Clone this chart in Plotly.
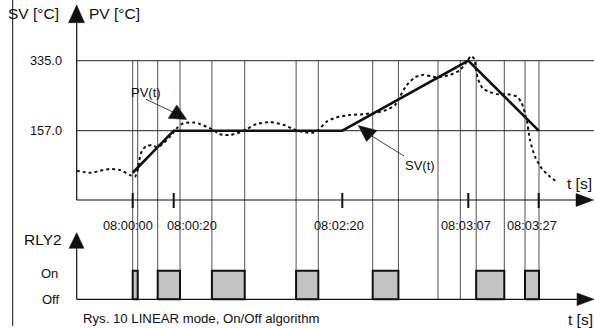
import plotly.graph_objects as go

# ---------------- data ----------------
# schematic time positions (chart units) and values
sv_t = [56, 97, 265.6, 391.6, 462]
sv_val = [50, 157, 157, 335, 157]

pv_t = [0, 13.3, 23.3, 33.3, 43.3, 53.3, 58.3, 61, 62.6, 65, 69.3, 75, 80.6, 86.6,
        93.3, 100, 106.6, 116.6, 123.3, 135, 143.3, 153.3, 163.3, 170, 180, 193.3,
        206.6, 216.6, 226.6, 236.6, 241.6, 250, 260, 273.3, 286.6, 300, 310, 318.3,
        323.3, 330, 338.3, 346.6, 356.6, 363.3, 373.3, 383.3, 390, 394.3, 397.6,
        399.3, 401.6, 406, 413.3, 420, 430, 440, 445, 450, 453.3, 458.3, 465, 473.3, 480]
pv_val = [55, 50, 55, 60, 57, 44, 40, 57, 82, 104, 118, 120, 115, 125,
          142, 163, 176, 178, 174, 161, 148, 146, 153, 161, 174, 179,
          172, 161, 154, 152, 159, 180, 191, 197, 199, 203, 210, 222,
          244, 273, 293, 299, 294, 293, 299, 311, 332, 347, 339,
          311, 286, 265, 255, 250, 250, 244, 227, 184, 133, 91, 61, 40, 27]

relay_on = [56, 81, 135.2, 219.4, 296, 399.5, 448.3]
relay_off = [61, 103.3, 168, 241.6, 321.7, 427.6, 462.3]
extra_events = [361.3, 383.6]

tick_t = [56, 97, 265.6, 391.6, 462]
tick_labels = ["08:00:00", "08:00:20", "08:02:20", "08:03:07", "08:03:27"]
label_shift = [-4.7, 18.5, -3.8, -2.3, -6.7]

level_vals = [157, 335]
level_labels = ["157.0", "335.0"]

# ---------------- geometry helpers ----------------
W, H = 594, 328
X0 = 76.7
Y157, Y335 = 130.7, 60.7
K = (335 - 157) / (Y157 - Y335)
YOFF, YON = 299.3, 270.7


def ux(px):
    return px - X0


def ty(py):
    return 157 + (Y157 - py) * K


def ry(py):
    return (YOFF - py) / (YOFF - YON)


def paper(px, py):
    return px / W, 1 - py / H


FONT = "Liberation Sans, Arial, sans-serif"
INK = "#111111"

fig = go.Figure()

# relay pulses
for a, b in zip(relay_on, relay_off):
    fig.add_trace(go.Scatter(x=[a, a, b, b, a], y=[0, 1, 1, 0, 0], mode="lines",
                             fill="toself", fillcolor="#c3c3c3",
                             line=dict(color=INK, width=2), yaxis="y2",
                             hoverinfo="skip", showlegend=False))

# PV (dotted) and SV (solid)
fig.add_trace(go.Scatter(x=pv_t, y=pv_val, mode="lines",
                         line=dict(color=INK, width=2, dash="dot", shape="spline", smoothing=0.6),
                         showlegend=False, hoverinfo="skip"))
fig.add_trace(go.Scatter(x=sv_t, y=sv_val, mode="lines",
                         line=dict(color=INK, width=2.6),
                         showlegend=False, hoverinfo="skip"))

shapes = []
# left frame line
shapes.append(dict(type="line", xref="x", yref="paper", x0=ux(12.7), x1=ux(12.7),
                   y0=1 - 326 / H, y1=1, line=dict(color=INK, width=1)))
# vertical event lines
for e in sorted(relay_on + relay_off + extra_events):
    shapes.append(dict(type="line", xref="x", yref="paper", x0=e, x1=e,
                       y0=1 - YOFF / H, y1=1 - Y335 / H, layer="below",
                       line=dict(color="#505050", width=1)))
# horizontal level lines
for v in level_vals:
    shapes.append(dict(type="line", xref="x", yref="y", x0=0, x1=ux(W), y0=v, y1=v,
                       layer="below", line=dict(color="#222222", width=1)))


def tri(pts, yconv, yref):
    p = " L ".join(f"{ux(x)},{yconv(y)}" for x, y in pts)
    return dict(type="path", xref="x", yref=yref, path="M " + p + " Z",
                fillcolor=INK, line=dict(color=INK, width=0.5))


# top time axis
shapes.append(dict(type="line", xref="x", yref="y", x0=0, x1=ux(580), y0=ty(200), y1=ty(200),
                   line=dict(color=INK, width=1.2)))
shapes.append(tri([(576, 193.5), (593.5, 200), (576, 206.5)], ty, "y"))
# bottom time axis
shapes.append(dict(type="line", xref="x", yref="y2", x0=0, x1=ux(580), y0=0, y1=0,
                   line=dict(color=INK, width=1.2)))
shapes.append(tri([(577, 293), (594, 299.3), (577, 305.6)], ry, "y2"))
# PV axis
shapes.append(dict(type="line", xref="x", yref="y", x0=0, x1=0, y0=ty(200), y1=ty(20),
                   line=dict(color=INK, width=1.2)))
shapes.append(tri([(68.5, 22.7), (76.7, 5), (84.5, 22.7)], ty, "y"))
# RLY2 axis
shapes.append(dict(type="line", xref="x", yref="y2", x0=0, x1=0, y0=0, y1=ry(246),
                   line=dict(color=INK, width=1.2)))
shapes.append(tri([(69, 248.3), (76.7, 232.7), (84, 248.3)], ry, "y2"))
# ticks
for t in tick_t:
    shapes.append(dict(type="line", xref="x", yref="y", x0=t, x1=t, y0=ty(193), y1=ty(208),
                       line=dict(color=INK, width=2)))
# PV(t) pointer
shapes.append(dict(type="line", xref="x", yref="y", x0=ux(146), x1=ux(174), y0=ty(99.3), y1=ty(112.5),
                   line=dict(color=INK, width=0.8)))
shapes.append(tri([(168.3, 118.3), (186.7, 119.5), (176.7, 105)], ty, "y"))
# SV(t) pointer
shapes.append(dict(type="line", xref="x", yref="y", x0=ux(371), x1=ux(404), y0=ty(135.5), y1=ty(156),
                   line=dict(color=INK, width=0.8)))
shapes.append(tri([(358.3, 125.5), (366.5, 141.5), (377, 130.5)], ty, "y"))

annotations = []


def txt(s, px, py, size, xanchor="left", yanchor="middle"):
    x, y = paper(px, py)
    annotations.append(dict(text=s, x=x, y=y, xref="paper", yref="paper", showarrow=False,
                            xanchor=xanchor, yanchor=yanchor,
                            font=dict(family=FONT, size=size, color=INK)))


txt("SV [°C]", 5.5, 13.5, 15.5)
txt("PV [°C]", 87, 13.5, 15.5)
txt("RLY2", 21.5, 239.5, 15.5)
txt("On", 39, 273.3, 13)
txt("Off", 40, 299.8, 13)
txt("t [s]", 565, 183, 15.5)
txt("t [s]", 566, 319.5, 15.5)
txt("PV(t)", 128.5, 92, 13)
txt("SV(t)", 402.5, 165.5, 13)
txt("Rys. 10 LINEAR mode, On/Off algorithm", 81, 318.5, 13.2)

for v, lab in zip(level_vals, level_labels):
    annotations.append(dict(text=lab, x=ux(63.5), y=v, xref="x", yref="y", showarrow=False,
                            xanchor="right", yanchor="middle",
                            font=dict(family=FONT, size=12.8, color=INK)))

for t, lab, d in zip(tick_t, tick_labels, label_shift):
    annotations.append(dict(text=lab, x=t + d, y=1 - 226 / H, xref="x", yref="paper",
                            showarrow=False, xanchor="center", yanchor="middle",
                            font=dict(family=FONT, size=12.8, color=INK)))

fig.update_layout(
    width=W, height=H, margin=dict(l=0, r=0, t=0, b=0),
    paper_bgcolor="white", plot_bgcolor="white",
    xaxis=dict(range=[ux(0), ux(W)], visible=False, fixedrange=True),
    yaxis=dict(range=[ty(H), ty(0)], visible=False, fixedrange=True),
    yaxis2=dict(range=[ry(H), ry(0)], visible=False, overlaying="y", fixedrange=True),
    shapes=shapes, annotations=annotations, showlegend=False,
)

fig.write_html("out.html")
